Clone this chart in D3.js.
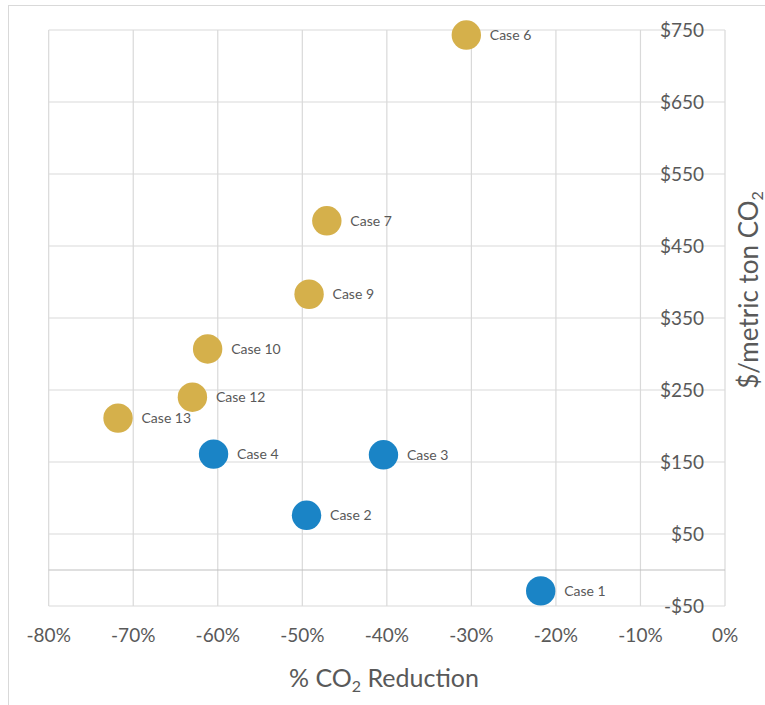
<!DOCTYPE html>
<html>
<head>
<meta charset="utf-8">
<script src="https://cdn.jsdelivr.net/npm/d3@7"></script>
<style>
  html, body { margin: 0; padding: 0; background: #fff; }
  svg { display: block; }
  text { font-family: Lato, "Open Sans", sans-serif; }
</style>
</head>
<body>
<div id="chart"></div>
<script>
// ---- data ----
const caseNames = ["Case 1", "Case 2", "Case 3", "Case 4", "Case 6", "Case 7", "Case 9", "Case 10", "Case 12", "Case 13"];
const co2Reduction = [-0.218, -0.495, -0.404, -0.605, -0.306, -0.471, -0.492, -0.612, -0.630, -0.718];
const costPerTon = [-29, 76, 160, 161, 743, 485, 383, 307, 240, 211];
const caseGroup = ["blue", "blue", "blue", "blue", "gold", "gold", "gold", "gold", "gold", "gold"];
const xTicks = [-0.8, -0.7, -0.6, -0.5, -0.4, -0.3, -0.2, -0.1, 0];
const yTicks = [-50, 50, 150, 250, 350, 450, 550, 650, 750];

const W = 765, H = 705;
const colors = { blue: "#1A84C6", gold: "#D5B04B" };

const svg = d3.select("#chart").append("svg").attr("width", W).attr("height", H);

// outer frame
svg.append("rect").attr("x", 8.5).attr("y", 5.5).attr("width", W + 20).attr("height", H + 20)
  .attr("fill", "none").attr("stroke", "#d9d9d9").attr("stroke-width", 1);

const x = d3.scaleLinear().domain([-0.8, 0]).range([48.7, 725]);
const y = d3.scaleLinear().domain([-50, 750]).range([606, 30]);

// gridlines
const grid = svg.append("g").attr("stroke", "#d9d9d9").attr("stroke-width", 1.2);
grid.selectAll("line.v").data(xTicks).join("line")
  .attr("x1", d => x(d)).attr("x2", d => x(d)).attr("y1", y(750)).attr("y2", y(-50));
grid.selectAll("line.h").data(yTicks).join("line")
  .attr("x1", x(-0.8)).attr("x2", x(0)).attr("y1", d => y(d)).attr("y2", d => y(d));
// zero axis line
svg.append("line").attr("x1", x(-0.8)).attr("x2", x(0)).attr("y1", y(0)).attr("y2", y(0))
  .attr("stroke", "#bfbfbf").attr("stroke-width", 1.2);

// x tick labels
svg.append("g").selectAll("text").data(xTicks).join("text")
  .attr("x", d => x(d)).attr("y", 642)
  .attr("text-anchor", "middle").attr("font-size", 19).attr("fill", "#595959")
  .text(d => d3.format(".0%")(d).replace("−", "-"));

// y tick labels
svg.append("g").selectAll("text").data(yTicks).join("text")
  .attr("x", 704).attr("y", d => y(d)).attr("dy", "0.35em")
  .attr("text-anchor", "end").attr("font-size", 19).attr("fill", "#595959")
  .text(d => (d < 0 ? "-$" : "$") + Math.abs(d));

// points
const pts = caseNames.map((n, i) => ({ name: n, x: co2Reduction[i], y: costPerTon[i], g: caseGroup[i] }));
svg.append("g").selectAll("circle").data(pts).join("circle")
  .attr("cx", d => x(d.x)).attr("cy", d => y(d.y)).attr("r", 14.7)
  .attr("fill", d => colors[d.g]);

svg.append("g").selectAll("text").data(pts).join("text")
  .attr("x", d => x(d.x) + 23.5).attr("y", d => y(d.y)).attr("dy", "0.35em")
  .attr("font-size", 14).attr("fill", "#595959")
  .text(d => d.name);

// x axis title
const xt = svg.append("text").attr("x", 384).attr("y", 687)
  .attr("text-anchor", "middle").attr("font-size", 25).attr("fill", "#595959");
xt.append("tspan").text("% CO");
xt.append("tspan").attr("font-size", 16).attr("dy", 5).text("2");
xt.append("tspan").attr("dy", -5).text(" Reduction");

// y axis title
const yt = svg.append("text").attr("transform", "translate(758,290) rotate(-90)")
  .attr("text-anchor", "middle").attr("font-size", 26).attr("fill", "#595959");
yt.append("tspan").text("$/metric ton CO");
yt.append("tspan").attr("font-size", 16).attr("dy", 5).text("2");
</script>
</body>
</html>
